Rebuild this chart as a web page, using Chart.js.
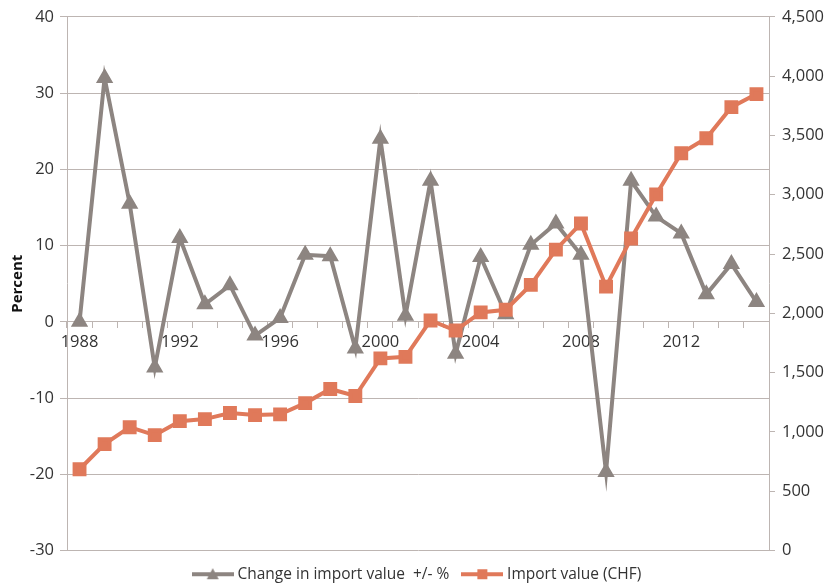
<!DOCTYPE html>
<html>
<head>
<meta charset="utf-8">
<script src="https://cdn.jsdelivr.net/npm/chart.js@4"></script>
<style>
  html, body { margin: 0; padding: 0; background: #fff; }
  #wrap { width: 837px; height: 584px; }
</style>
</head>
<body>
<div id="wrap"><canvas id="chart"></canvas></div>
<script>
const years = ['1988','1989','1990','1991','1992','1993','1994','1995','1996','1997',
  '1998','1999','2000','2001','2002','2003','2004','2005','2006','2007',
  '2008','2009','2010','2011','2012','2013','2014','2015']
const changePct = [0, 32, 15.5, -6, 11, 2.3, 4.8, -1.8, 0.5, 8.8,
  8.6, -3.5, 24, 0.8, 18.5, -4.2, 8.5, 1, 10.1, 12.9,
  8.8, -19.7, 18.5, 13.8, 11.6, 3.6, 7.6, 2.6]
const importValue = [685, 897, 1040, 973, 1091, 1108, 1159, 1142, 1148, 1243,
  1362, 1303, 1620, 1633, 1940, 1855, 2008, 2030, 2240, 2537,
  2758, 2225, 2631, 3003, 3350, 3477, 3739, 3849]

const GREY = '#8d8581'
const ORANGE = '#e0795a'
const GRID = '#bdb5b2'
const TEXT = '#333'

// little legend icons: line with the marker in the middle
function legendIcon(color, shape) {
    const c = document.createElement('canvas')
    c.width = 42
    c.height = 14
    const g = c.getContext('2d')
    g.strokeStyle = color
    g.lineWidth = 4
    g.beginPath()
    g.moveTo(0, 7)
    g.lineTo(42, 7)
    g.stroke()
    g.fillStyle = color
    if (shape === 'triangle') {
        g.beginPath()
        g.moveTo(21, 1)
        g.lineTo(27, 12)
        g.lineTo(15, 12)
        g.closePath()
        g.fill()
    } else {
        g.fillRect(16, 2, 10, 10)
    }
    return c
}
const icons = [legendIcon(GREY, 'triangle'), legendIcon(ORANGE, 'rect')]

const font = { family: "'Open Sans', sans-serif", size: 16.5 }
const legendFont = { family: "'Open Sans', sans-serif", size: 15.5 }

new Chart(document.getElementById('chart'), {
    type: 'line',
    data: {
        labels: years,
        datasets: [
            {
                label: 'Change in import value  +/- %',
                data: changePct,
                yAxisID: 'y',
                borderColor: GREY,
                backgroundColor: GREY,
                borderWidth: 4,
                pointStyle: 'triangle',
                pointRadius: 6,
                tension: 0,
                order: 1,
            },
            {
                label: 'Import value (CHF)',
                data: importValue,
                yAxisID: 'y1',
                borderColor: ORANGE,
                backgroundColor: ORANGE,
                borderWidth: 4,
                pointStyle: 'rect',
                pointRadius: 7,
                tension: 0,
                order: 0,
            },
        ],
    },
    options: {
        responsive: true,
        maintainAspectRatio: false,
        animation: false,
        layout: { padding: { top: 8, left: 0, right: 0, bottom: -8 } },
        plugins: {
            tooltip: { enabled: false },
            legend: {
                position: 'bottom',
                labels: {
                    usePointStyle: true,
                    pointStyleWidth: 34,
                    color: TEXT,
                    font: legendFont,
                    padding: 16,
                    sort: (a, b) => a.datasetIndex - b.datasetIndex,
                    generateLabels: (chart) => {
                        const items = Chart.defaults.plugins.legend.labels.generateLabels(chart)
                        items.forEach((it) => { it.pointStyle = icons[it.datasetIndex] })
                        return items
                    },
                },
            },
        },
        scales: {
            x: {
                position: { y: 0 },
                offset: true,
                grid: { display: true, drawOnChartArea: false, offset: true, tickLength: 6, color: GRID },
                border: { color: GRID },
                ticks: {
                    autoSkip: false,
                    maxRotation: 0,
                    color: TEXT,
                    font: font,
                    padding: 5,
                    callback: (v, i) => (i % 4 === 0 ? years[i] : ''),
                },
            },
            y: {
                position: 'left',
                min: -30,
                max: 40,
                ticks: { stepSize: 10, color: TEXT, font: font, padding: 6 },
                grid: { color: GRID, tickLength: 7 },
                border: { color: GRID },
                title: {
                    display: true,
                    text: 'Percent',
                    color: '#111',
                    font: { family: "'Open Sans', sans-serif", size: 15, weight: 'bold' },
                    padding: { top: 9, bottom: 0 },
                },
                afterFit: (s) => { s.width = 67 },
            },
            y1: {
                position: 'right',
                min: 0,
                max: 4500,
                ticks: { stepSize: 500, color: TEXT, font: font, padding: 7 },
                grid: { drawOnChartArea: false, color: GRID, tickLength: 6 },
                border: { color: GRID },
                afterFit: (s) => { s.width = 68 },
            },
        },
    },
})
</script>
</body>
</html>
